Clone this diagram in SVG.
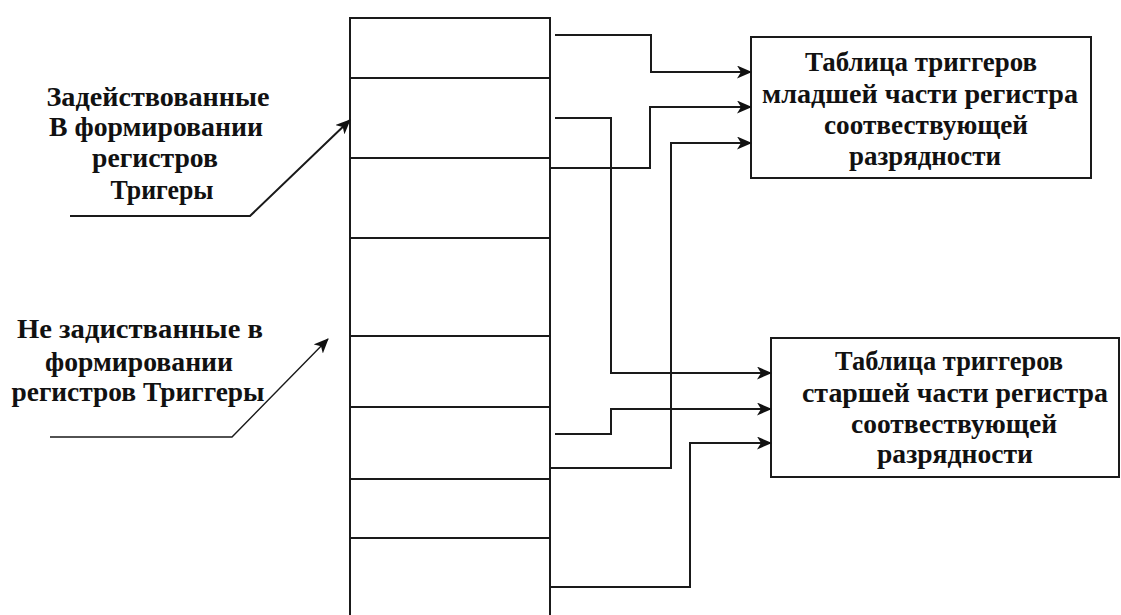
<svg xmlns="http://www.w3.org/2000/svg" width="1121" height="615" viewBox="0 0 1121 615">
<defs>
<style>
.ln{fill:none;stroke:#1a1a1a;stroke-width:2}
.thin{fill:none;stroke:#1a1a1a;stroke-width:1.4}
.box{fill:#fff;stroke:#1a1a1a;stroke-width:2}
.t{font-family:"Liberation Serif","Times New Roman",serif;font-weight:bold;font-size:27px;fill:#111}
</style>
<marker id="ah" viewBox="0 0 15 13" refX="14" refY="6.5" markerWidth="15" markerHeight="13" markerUnits="userSpaceOnUse" orient="auto">
<path d="M0,0 L15,6.5 L0,13 L4,6.5 Z" fill="#111"/>
</marker>
</defs>
<rect width="1121" height="615" fill="#fff"/>
<g id="register">
<rect class="box" x="350" y="18" width="200" height="620"/>
<line class="ln" x1="350" y1="78" x2="550" y2="78"/>
<line class="ln" x1="350" y1="158" x2="550" y2="158"/>
<line class="ln" x1="350" y1="238" x2="550" y2="238"/>
<line class="ln" x1="350" y1="336" x2="550" y2="336"/>
<line class="ln" x1="350" y1="407" x2="550" y2="407"/>
<line class="ln" x1="350" y1="479" x2="550" y2="479"/>
<line class="ln" x1="350" y1="538" x2="550" y2="538"/>
</g>
<g id="table-low">
<rect class="box" x="751" y="37" width="340" height="141"/>
<text class="t" x="921" y="71" text-anchor="middle" textLength="232" lengthAdjust="spacingAndGlyphs">Таблица триггеров</text>
<text class="t" x="920" y="103" text-anchor="middle" textLength="316" lengthAdjust="spacingAndGlyphs">младшей части регистра</text>
<text class="t" x="926" y="134" text-anchor="middle" textLength="204" lengthAdjust="spacingAndGlyphs">соотвествующей</text>
<text class="t" x="925" y="165" text-anchor="middle" textLength="152" lengthAdjust="spacingAndGlyphs">разрядности</text>
</g>
<g id="table-high">
<rect class="box" x="771" y="338" width="348" height="139"/>
<text class="t" x="949" y="370" text-anchor="middle" textLength="228" lengthAdjust="spacingAndGlyphs">Таблица триггеров</text>
<text class="t" x="955" y="402" text-anchor="middle" textLength="306" lengthAdjust="spacingAndGlyphs">старшей части регистра</text>
<text class="t" x="954" y="433" text-anchor="middle" textLength="206" lengthAdjust="spacingAndGlyphs">соотвествующей</text>
<text class="t" x="955" y="463" text-anchor="middle" textLength="156" lengthAdjust="spacingAndGlyphs">разрядности</text>
</g>
<g id="label-used">
<text class="t" x="158" y="106" text-anchor="middle" textLength="223" lengthAdjust="spacingAndGlyphs">Задействованные</text>
<text class="t" x="156" y="136" text-anchor="middle" textLength="214" lengthAdjust="spacingAndGlyphs">В формировании</text>
<text class="t" x="155" y="167" text-anchor="middle" textLength="126" lengthAdjust="spacingAndGlyphs">регистров</text>
<text class="t" x="162" y="199" text-anchor="middle" textLength="103" lengthAdjust="spacingAndGlyphs">Тригеры</text>
</g>
<g id="label-unused">
<text class="t" x="140" y="338" text-anchor="middle" textLength="246" lengthAdjust="spacingAndGlyphs">Не задистванные в</text>
<text class="t" x="139" y="371" text-anchor="middle" textLength="188" lengthAdjust="spacingAndGlyphs">формировании</text>
<text class="t" x="138" y="401" text-anchor="middle" textLength="253" lengthAdjust="spacingAndGlyphs">регистров Триггеры</text>
</g>
<g id="connectors">
<path class="ln" d="M555,35 H651 V72 H751" marker-end="url(#ah)"/>
<path class="ln" d="M550,168 H650 V107 H751" marker-end="url(#ah)"/>
<path class="ln" d="M550,468 H671 V143 H751" marker-end="url(#ah)"/>
<path class="ln" d="M555,118 H611 V373 H771" marker-end="url(#ah)"/>
<path class="ln" d="M555,434 H611 V409 H771" marker-end="url(#ah)"/>
<path class="ln" d="M550,587 H690 V443 H771" marker-end="url(#ah)"/>
<path class="ln" d="M70,216 H250 L350,120" marker-end="url(#ah)"/>
<path class="thin" d="M50,437 H232 L328,339" marker-end="url(#ah)"/>
</g>
</svg>
